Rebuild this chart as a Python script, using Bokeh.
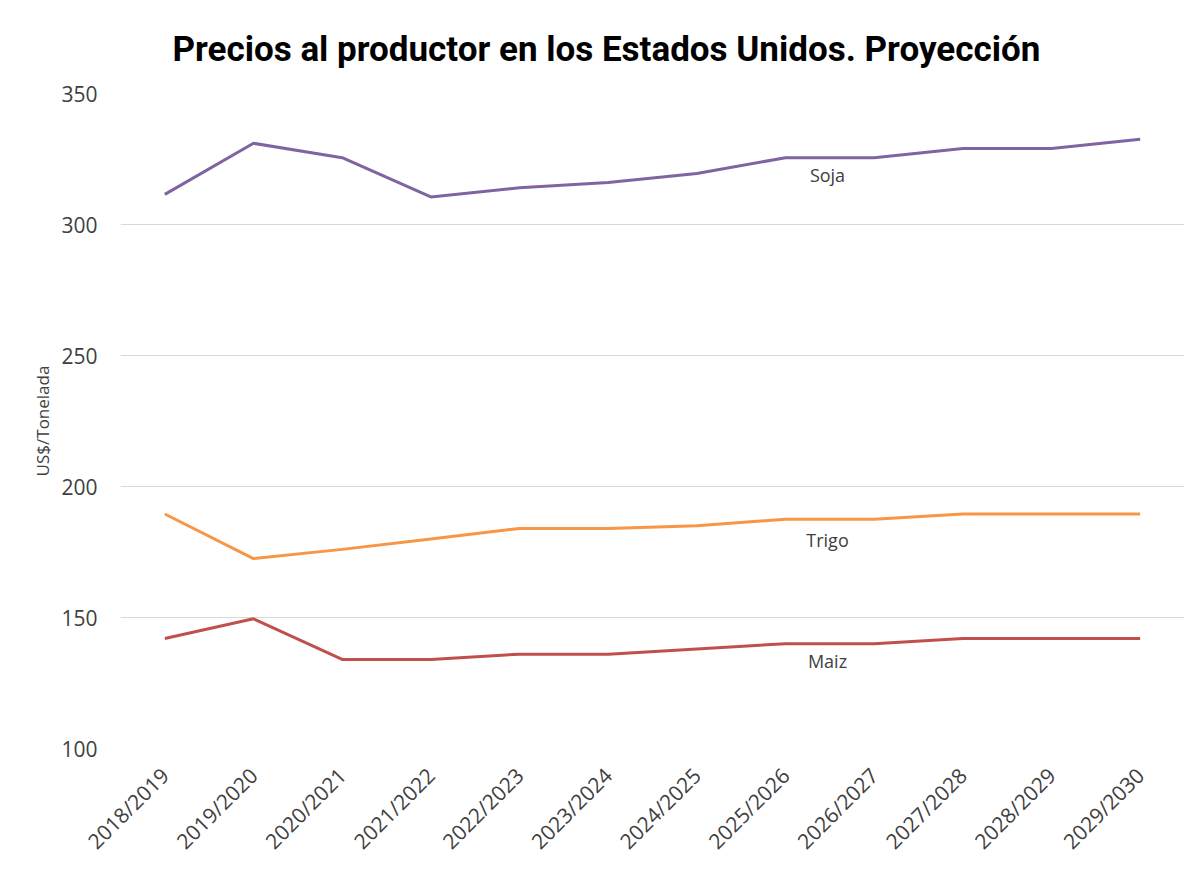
from bokeh.plotting import figure
from bokeh.models import FactorRange, Range1d, FixedTicker
from bokeh.core.properties import value
from bokeh.embed import file_html
from bokeh.resources import INLINE
from math import pi

campanas = ["2018/2019", "2019/2020", "2020/2021", "2021/2022", "2022/2023", "2023/2024",
            "2024/2025", "2025/2026", "2026/2027", "2027/2028", "2028/2029", "2029/2030"]
soja = [311.5, 331, 325.5, 310.5, 314, 316, 319.5, 325.5, 325.5, 329, 329, 332.5]
trigo = [189.5, 172.5, 176, 180, 184, 184, 185, 187.5, 187.5, 189.5, 189.5, 189.5]
maiz = [142, 149.5, 134, 134, 136, 136, 138, 140, 140, 142, 142, 142]
y_ticks = [100, 150, 200, 250, 300, 350]
series_names = ["Soja", "Trigo", "Maiz"]
series_colors = ["#8064A2", "#F79646", "#C0504D"]
label_anchor = "2025/2026"
label_values = [319, 179.5, 133.5]
titulo = "Precios al productor en los Estados Unidos. Proyección"
eje_y = "US$/Tonelada"

p = figure(x_range=FactorRange(factors=campanas), y_range=Range1d(100, 350),
           width=1190, height=868, output_backend="svg", toolbar_location=None,
           min_border_left=120, min_border_right=6, min_border_top=93, min_border_bottom=120)
p.outline_line_color = None
p.background_fill_color = "white"
p.border_fill_color = "white"

p.title.text = titulo
p.title.align = "left"
p.title.offset = 52
p.title.standoff = 48
p.title.text_font = "Roboto"
p.title.text_font_style = "bold"
p.title.text_font_size = "35px"
p.title.text_color = "black"

for vals, col in zip([soja, trigo, maiz], series_colors):
    p.line(x=campanas, y=vals, line_color=col, line_width=3)

p.text(x=[label_anchor] * 3, y=label_values, text=series_names, x_offset=42,
       text_align="center", text_baseline="middle", text_color="#404040",
       text_font=value("Open Sans"), text_font_size="18px")

p.xgrid.grid_line_color = None
p.ygrid.grid_line_color = "#d9d9d9"
p.ygrid.grid_line_width = 1
p.yaxis.ticker = FixedTicker(ticks=y_ticks)

for ax in [p.xaxis, p.yaxis]:
    ax.axis_line_color = None
    ax.major_tick_line_color = None
    ax.minor_tick_line_color = None
    ax.major_label_text_font = "Open Sans"
    ax.major_label_text_font_size = "21px"
    ax.major_label_text_color = "#404040"

p.xaxis.major_label_orientation = pi / 4
p.xaxis.major_label_standoff = 17
p.yaxis.major_label_standoff = 17
p.yaxis.axis_label = eje_y
p.yaxis.axis_label_text_font = "Open Sans"
p.yaxis.axis_label_text_font_style = "normal"
p.yaxis.axis_label_text_font_size = "17px"
p.yaxis.axis_label_text_color = "#404040"
p.yaxis.axis_label_standoff = 4

open("out.html", "w").write(file_html(p, INLINE))
